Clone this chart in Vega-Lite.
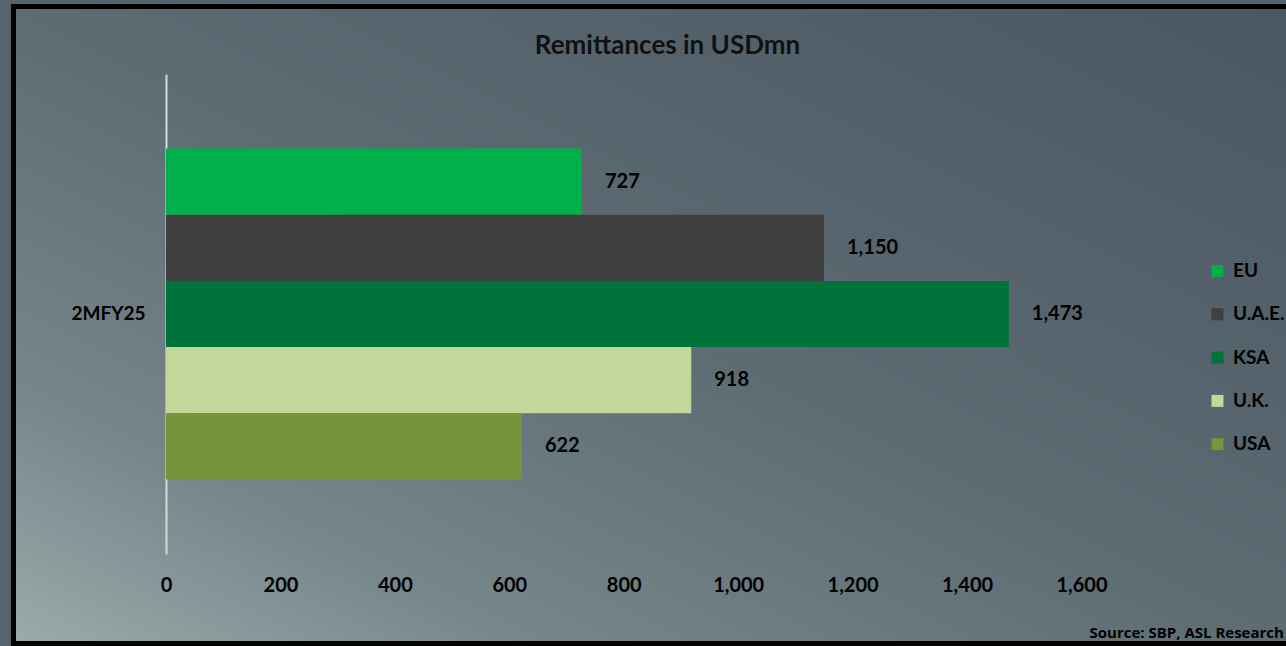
{
  "$schema": "https://vega.github.io/schema/vega-lite/v6.json",
  "autosize": {"type": "none"},
  "padding": {"left": 13.5, "top": 6.5, "right": 0, "bottom": 2.5},
  "width": 1290,
  "height": 637,
  "background": "#56646c",
  "title": {
    "text": "Remittances in USDmn",
    "offset": -65.5,
    "baseline": "middle",
    "dx": 9,
    "anchor": "middle",
    "font": "Lato",
    "fontSize": 26,
    "fontWeight": "bold",
    "color": "#111111"
  },
  "data": {
    "values": [
      {"period": "2MFY25", "country": "EU", "value": 727},
      {"period": "2MFY25", "country": "U.A.E.", "value": 1150},
      {"period": "2MFY25", "country": "KSA", "value": 1473},
      {"period": "2MFY25", "country": "U.K.", "value": 918},
      {"period": "2MFY25", "country": "USA", "value": 622}
    ]
  },
  "encoding": {
    "y": {
      "field": "period",
      "type": "nominal",
      "scale": {"range": [67.5, 547.5], "paddingOuter": 0.225, "paddingInner": 0},
      "axis": {
        "orient": "left",
        "offset": -152.5,
        "title": null,
        "domain": true,
        "domainColor": "#d8d8d8",
        "domainWidth": 2,
        "ticks": false,
        "tickSize": 0,
        "labelPadding": 21,
        "labelFont": "Lato",
        "labelFontSize": 19,
        "labelFontWeight": "bold",
        "labelColor": "#000000",
        "labelAngle": 0
      }
    },
    "yOffset": {
      "field": "country",
      "type": "nominal",
      "sort": ["EU", "U.A.E.", "KSA", "U.K.", "USA"],
      "scale": {"paddingInner": 0, "paddingOuter": 0}
    },
    "x": {
      "field": "value",
      "type": "quantitative",
      "scale": {"domain": [0, 1600], "range": [152.5, 1068], "nice": false},
      "axis": {
        "orient": "bottom",
        "offset": -58.5,
        "values": [0, 200, 400, 600, 800, 1000, 1200, 1400, 1600],
        "format": ",.0f",
        "domain": false,
        "ticks": false,
        "tickSize": 0,
        "grid": false,
        "labelPadding": 0,
        "labelBaseline": "middle",
        "labelFlush": false,
        "labelOverlap": false,
        "labelFont": "Lato",
        "labelFontSize": 20,
        "labelFontWeight": "bold",
        "labelColor": "#000000",
        "title": "Source: SBP, ASL Research",
        "titleX": 1075.5,
        "titleY": 47,
        "titleAlign": "left",
        "titleBaseline": "middle",
        "titleFont": "Open Sans",
        "titleFontSize": 15,
        "titleFontWeight": "bold",
        "titleColor": "#000000"
      }
    }
  },
  "layer": [
    {
      "mark": {"type": "bar"},
      "encoding": {
        "color": {
          "field": "country",
          "type": "nominal",
          "scale": {
            "domain": ["EU", "U.A.E.", "KSA", "U.K.", "USA"],
            "range": ["#00b04a", "#404040", "#00733a", "#c4d79b", "#77933c"]
          },
          "legend": {
            "orient": "none",
            "legendX": 1194.5,
            "legendY": 255,
            "direction": "vertical",
            "title": null,
            "padding": 0,
            "symbolType": "square",
            "symbolSize": 144,
            "symbolStrokeWidth": 0,
            "labelFont": "Lato",
            "labelFontSize": 19,
            "labelFontWeight": "bold",
            "labelColor": "#000000",
            "labelOffset": 6,
            "rowPadding": 23.3
          }
        }
      }
    },
    {
      "mark": {
        "type": "text",
        "align": "left",
        "baseline": "middle",
        "dx": 23,
        "font": "Lato",
        "fontSize": 20,
        "fontWeight": "bold",
        "color": "#000000"
      },
      "encoding": {
        "text": {"field": "value", "type": "quantitative", "format": ","}
      }
    }
  ],
  "config": {
    "view": {
      "stroke": "#000000",
      "strokeWidth": 5,
      "fill": {
        "gradient": "linear",
        "x1": 1, "y1": 0, "x2": 0, "y2": 1,
        "stops": [
          {"offset": 0, "color": "#4a5661"},
          {"offset": 0.5, "color": "#5d6b73"},
          {"offset": 0.8, "color": "#76868a"},
          {"offset": 1, "color": "#9aabab"}
        ]
      }
    }
  }
}
